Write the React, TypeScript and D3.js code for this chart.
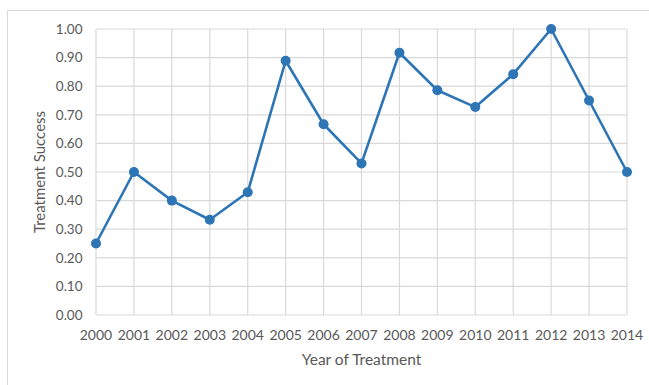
import React from "react";
import * as d3 from "d3";

const years = [2000, 2001, 2002, 2003, 2004, 2005, 2006, 2007, 2008, 2009, 2010, 2011, 2012, 2013, 2014];
const success = [0.25, 0.5, 0.4, 0.333, 0.429, 0.889, 0.667, 0.53, 0.917, 0.786, 0.727, 0.842, 1.0, 0.75, 0.5];
const yTicks = [0, 0.1, 0.2, 0.3, 0.4, 0.5, 0.6, 0.7, 0.8, 0.9, 1.0];

const W = 649;
const H = 385;
const m = { left: 96, right: 627, top: 29, bottom: 315 };
const FONT = "Lato, 'Open Sans', sans-serif";

export default function App() {
  const x = d3.scaleLinear().domain([years[0], years[years.length - 1]]).range([m.left, m.right]);
  const y = d3.scaleLinear().domain([0, 1]).range([m.bottom, m.top]);
  const line = d3
    .line<number>()
    .x((_, i) => x(years[i]))
    .y((d) => y(d));

  return (
    <svg
      width={W}
      height={H}
      style={{ position: "absolute", left: 0, top: 0, background: "#fff" }}
      fontFamily={FONT}
    >
      {/* chart frame */}
      <path d={`M7.5,${H} V10.5 H${W}`} fill="none" stroke="#d9d9d9" strokeWidth={1} />

      {/* gridlines */}
      {yTicks.map((t) => (
        <line key={`h${t}`} x1={m.left} x2={m.right} y1={y(t)} y2={y(t)} stroke="#d9d9d9" strokeWidth={1.2} />
      ))}
      {years.map((yr) => (
        <line key={`v${yr}`} x1={x(yr)} x2={x(yr)} y1={m.top} y2={m.bottom} stroke="#d9d9d9" strokeWidth={1.2} />
      ))}

      {/* y tick labels */}
      {yTicks.map((t) => (
        <text key={`yl${t}`} x={82.5} y={y(t)} dy="0.35em" textAnchor="end" fontSize={13.5} fill="#595959">
          {t.toFixed(2)}
        </text>
      ))}

      {/* x tick labels */}
      {years.map((yr) => (
        <text key={`xl${yr}`} x={x(yr)} y={335} dy="0.35em" textAnchor="middle" fontSize={14} fill="#595959">
          {yr}
        </text>
      ))}

      {/* axis titles */}
      <text x={361.5} y={360} dy="0.35em" textAnchor="middle" fontSize={15.5} fill="#595959">
        Year of Treatment
      </text>
      <text
        transform={`translate(40,${(m.top + m.bottom) / 2}) rotate(-90)`}
        dy="0.35em"
        textAnchor="middle"
        fontSize={15}
        fill="#595959"
      >
        Treatment Success
      </text>

      {/* series */}
      <path d={line(success) ?? ""} fill="none" stroke="#2e75b6" strokeWidth={2.6} strokeLinejoin="round" />
      {success.map((v, i) => (
        <circle key={`p${i}`} cx={x(years[i])} cy={y(v)} r={5} fill="#2e75b6" />
      ))}
    </svg>
  );
}
